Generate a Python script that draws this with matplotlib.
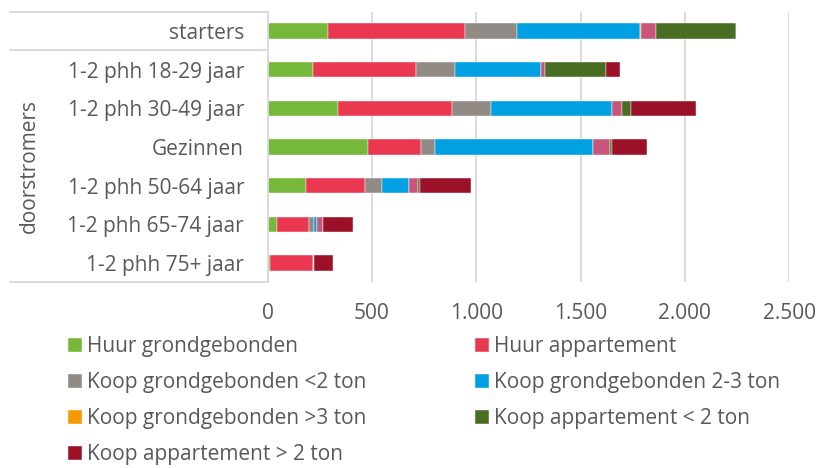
import matplotlib.pyplot as plt
import matplotlib.transforms as mtransforms
from matplotlib.lines import Line2D
import numpy as np

plt.rcParams['font.family'] = ['Open Sans', 'DejaVu Sans']

categorieen = ["starters", "1-2 phh 18-29 jaar", "1-2 phh 30-49 jaar", "Gezinnen",
               "1-2 phh 50-64 jaar", "1-2 phh 65-74 jaar", "1-2 phh 75+ jaar"]
groep = "doorstromers"

reeksen = ["Huur grondgebonden", "Huur appartement", "Koop grondgebonden <2 ton",
           "Koop grondgebonden 2-3 ton", "Koop grondgebonden >3 ton",
           "_Koop appartement 2-3 ton", "Koop appartement < 2 ton",
           "Koop appartement > 2 ton"]

huur_grond = [290, 217, 337, 482, 185, 43, 11]
huur_app = [655, 493, 547, 252, 281, 156, 207]
koop_grond_2 = [250, 188, 185, 70, 80, 22, 3]
koop_grond_23 = [592, 412, 584, 758, 132, 16, 0]
koop_grond_3 = [5, 0, 0, 0, 0, 0, 0]
koop_app_23 = [70, 18, 45, 81, 43, 26, 0]
koop_app_2 = [385, 294, 43, 6, 8, 2, 0]
koop_app_boven = [0, 66, 315, 168, 248, 144, 92]

waarden = [huur_grond, huur_app, koop_grond_2, koop_grond_23, koop_grond_3,
           koop_app_23, koop_app_2, koop_app_boven]
kleuren = ["#76B83A", "#E9384F", "#918A85", "#00A0E2", "#F59A00",
           "#C9557A", "#486D23", "#9A1128"]

tekstkleur = "#595959"
lijnkleur = "#D9D9D9"
fs = 15

fig = plt.figure(figsize=(8.19, 4.68), dpi=100)
ax = fig.add_axes([0.3269, 0.3966, 0.6365, 0.5786])

y = np.arange(len(categorieen))
links = np.zeros(len(categorieen))
handles = []
for naam, vals, kleur in zip(reeksen, waarden, kleuren):
    b = ax.barh(y, vals, left=links, height=0.4, color=kleur, label=naam,
                edgecolor="white", linewidth=0.3)
    links += np.array(vals)
    if not naam.startswith("_"):
        handles.append(b)

ax.set_xlim(0, 2500)
ax.set_ylim(len(categorieen) - 0.5, -0.5)
ax.set_xticks([0, 500, 1000, 1500, 2000, 2500])
ax.set_xticklabels(["0", "500", "1.000", "1.500", "2.000", "2.500"])
ax.set_yticks(y)
ax.set_yticklabels(categorieen)
ax.tick_params(axis="y", length=0, pad=17, labelsize=fs, labelcolor=tekstkleur)
ax.tick_params(axis="x", length=0, pad=15, labelsize=fs, labelcolor=tekstkleur)
ax.grid(axis="x", color=lijnkleur, linewidth=1.3)
ax.set_axisbelow(True)
for s in ["top", "right", "bottom"]:
    ax.spines[s].set_visible(False)
ax.spines["left"].set_color(lijnkleur)
ax.spines["left"].set_linewidth(1.3)

# lijnen van de categorie-tabel links
trans = mtransforms.blended_transform_factory(fig.transFigure, ax.transData)
x0 = 10 / 819
x1 = ax.get_position().x0
for yy in [-0.5, 0.5, len(categorieen) - 0.5]:
    fig.add_artist(Line2D([x0, x1], [yy, yy], transform=trans,
                          color=lijnkleur, linewidth=1.3))

fig.text(29 / 819, 3.5, groep, transform=trans, rotation=90, ha="center",
         va="center", fontsize=fs, color=tekstkleur)

volgorde = [0, 2, 4, 6, 1, 3, 5]
h = [handles[i] for i in volgorde]
labels = [h_.get_label() for h_ in h]
fig.legend(h, labels, loc="upper left", bbox_to_anchor=(68 / 819, 1 - 336 / 468),
           ncol=2, frameon=False, fontsize=fs, labelcolor=tekstkleur,
           handlelength=0.67, handleheight=0.67, handletextpad=0.25,
           labelspacing=0.72, columnspacing=5.2, borderpad=0, borderaxespad=0)

fig.savefig("out.png", dpi=100)
